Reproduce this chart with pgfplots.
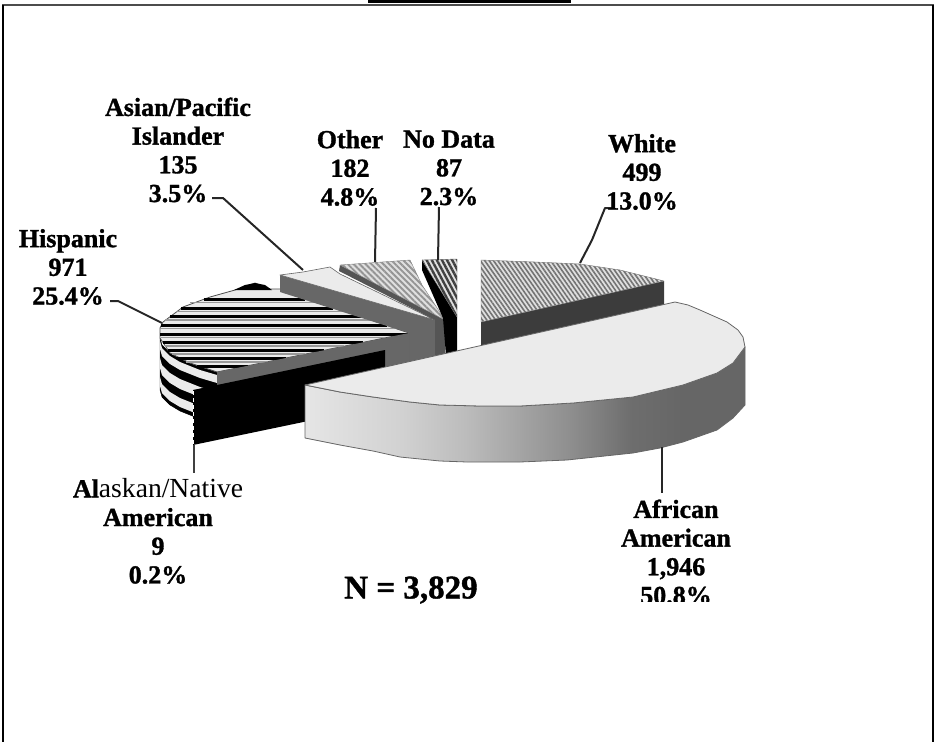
\documentclass[border=0pt]{standalone}
\usepackage{fontspec}
\setmainfont[BoldFeatures={FakeBold=1.2}]{Liberation Serif}
\usepackage{pgfplots}
\pgfplotsset{compat=1.18}
\usetikzlibrary{patterns.meta}
\definecolor{faceA}{HTML}{EBEBEB}
\definecolor{sideA}{HTML}{676767}
\definecolor{sideB}{HTML}{555555}
\definecolor{sideC}{HTML}{3C3C3C}
\pgfdeclarehorizontalshading{afr}{100bp}{
  rgb(0bp)=(.90,.90,.90); rgb(25bp)=(.90,.90,.90); rgb(36bp)=(.82,.82,.82);
  rgb(43bp)=(.74,.74,.74); rgb(55bp)=(.56,.56,.56); rgb(62bp)=(.43,.43,.43);
  rgb(68bp)=(.40,.40,.40); rgb(100bp)=(.40,.40,.40)}
\newcommand{\lab}{\fontsize{26}{28.7}\selectfont\bfseries}
\begin{document}
\begin{tikzpicture}
\useasboundingbox (0,0) rectangle (935pt,742pt);
\begin{axis}[
  scale only axis, width=935pt, height=742pt,
  xmin=0, xmax=935, ymin=0, ymax=742, y dir=reverse,
  hide axis, no markers,
  every axis plot/.append style={line join=round},
  stripe/.style={black, line width=3pt, forget plot},
  greystripe/.style={gray!80, line width=1.5pt},
  leader/.style={black!85, line width=2pt},
]
% frame and the cut off title rule
\addplot[fill=black, draw=none] coordinates {(368,0)(571,0)(571,2.5)(368,2.5)} -- cycle;
\addplot[black!70, line width=2pt] coordinates {(2,5)(934,5)};
\addplot[black, line width=2pt] coordinates {(3,5)(3,742)};
\addplot[black, line width=2pt] coordinates {(933,5)(933,742)};

% Hispanic: side bands
\addplot[fill=black, draw=black] coordinates {(160,338)(162,345)(170,353)(180,359)(190,363)(200,367)(217,372)(217,424)(200,419)(190,415)(180,411)(170,405)(162,397)(160,390)} -- cycle;
\addplot[fill=faceA, draw=none] coordinates {(160,341)(162,348)(170,356)(180,362)(190,366)(200,370)(217,375)(217,383)(200,378)(190,374)(180,370)(170,364)(162,356)(160,349)} -- cycle;
\addplot[fill=faceA, draw=none] coordinates {(160,358)(162,365)(170,373)(180,379)(190,383)(200,387)(217,392)(217,402)(200,397)(190,393)(180,389)(170,383)(162,375)(160,368)} -- cycle;
\addplot[fill=faceA, draw=none] coordinates {(160,377)(162,384)(170,392)(180,398)(190,402)(200,406)(217,411)(217,420)(200,415)(190,411)(180,407)(170,401)(162,393)(160,386)} -- cycle;

% Hispanic: top face, stripes
\addplot[fill=faceA, draw=black!70, line width=.8pt] coordinates {(160,328)(160,338)(170,353)(190,363)(217,372)(409,333)(280,289)(270,289)(255,283)(235,290)(210,297)(183,307)(163,322)} -- cycle;
\addplot[fill=black, draw=none] coordinates {(234,290)(245,285)(255,283)(265,285)(272,290)} -- cycle;
\addplot[stripe] coordinates {(204,299)(305,299)};
\addplot[stripe] coordinates {(181,308)(333,308)};
\addplot[stripe] coordinates {(170,316.7)(361,316.7)};
\addplot[stripe] coordinates {(161,325)(387,325)};
\addplot[stripe] coordinates {(160,334)(408,334)};
\addplot[stripe] coordinates {(163,342.7)(363,342.7)};
\addplot[stripe] coordinates {(168,350.7)(324,350.7)};
\addplot[stripe] coordinates {(177,358.3)(286,358.3)};
\addplot[stripe] coordinates {(197,366)(248,366)};
\addplot[greystripe] coordinates {(190,302.5)(315,302.5)};
\addplot[greystripe] coordinates {(176,311.5)(345,311.5)};
\addplot[greystripe] coordinates {(165,320)(372,320)};
\addplot[greystripe] coordinates {(160,328.5)(400,328.5)};
\addplot[greystripe] coordinates {(161,337.5)(385,337.5)};
\addplot[greystripe] coordinates {(165,346)(344,346)};
\addplot[greystripe] coordinates {(172,354)(305,354)};
\addplot[greystripe] coordinates {(186,361.8)(268,361.8)};

% cut faces at the middle
\addplot[fill=sideA, draw=none] coordinates {(217,372)(409,333)(409,372)(217,392)} -- cycle;
\addplot[fill=black, draw=none] coordinates {(193,390)(385,350)(385,405)(193,445)} -- cycle;
\addplot[white, line width=1pt, dash pattern=on 4pt off 3pt] coordinates {(193,391)(193,445)};
\addplot[black!75, line width=1.3pt] coordinates {(194,445)(194,473)};

% Asian/Pacific Islander
\addplot[fill=sideA, draw=none] coordinates {(280,275)(435,320)(435,358)(409,372)(409,333)(280,292)} -- cycle;
\addplot[black!60, line width=.8pt] coordinates {(409,333)(409,372)};
\addplot[fill=faceA, draw=black!60, line width=.6pt] coordinates {(280,275)(303,272)(330,267)(340,274)(435,320)} -- cycle;

% Other
\addplot[fill=sideB, draw=none] coordinates {(340,265)(445,320)(445,358)(435,360)(435,320)(339,271)} -- cycle;
\addplot[fill=black!12, draw=none] coordinates {(340,265)(410,260)(422,285)(445,320)} -- cycle;
\addplot[pattern={Lines[angle=-45,distance=4.2pt,line width=1.9pt]}, pattern color=black!42, draw=black!50, line width=.4pt] coordinates {(340,265)(410,260)(422,285)(445,320)} -- cycle;

% No Data
\addplot[fill=black, draw=none] coordinates {(422,260)(457,317)(457,353)(446,356)(443,318)(422,270)} -- cycle;
\addplot[fill=black!12, draw=none] coordinates {(422,260)(457,259)(457,317)} -- cycle;
\addplot[pattern={Lines[angle=-62,distance=4.5pt,line width=2.4pt]}, pattern color=black!75, draw=black!60, line width=.4pt] coordinates {(422,260)(457,259)(457,317)} -- cycle;

% White
\addplot[fill=sideC, draw=none] coordinates {(481,322)(664,281)(664,310)(481,352)} -- cycle;
\addplot[fill=black!12, draw=none] coordinates {(481,322)(481,260)(535,262)(580,264)(620,270)(664,281)} -- cycle;
\addplot[pattern={Lines[angle=-55,distance=3.6pt,line width=1.6pt]}, pattern color=black!55, draw=black!55, line width=.4pt] coordinates {(481,322)(481,260)(535,262)(580,264)(620,270)(664,281)} -- cycle;

% African American
\addplot[shading=afr, draw=black!60, line width=.8pt] coordinates {(305,385)(340,392)(373,397)(410,402)(440,405)(480,406)(520,406)(573,403)(633,397)(683,385)(717,373)(733,363)(745,347)(745,405)(733,418)(717,430)(683,442)(660,448)(633,453)(567,460)(520,462)(467,462)(440,461)(400,457)(373,451)(340,445)(305,438)} -- cycle;
\addplot[fill=faceA, draw=black!60, line width=.8pt] coordinates {(305,385)(675,302)(688,305)(700,310)(727,322)(738,330)(743,337)(745,347)(733,363)(717,373)(683,385)(633,397)(573,403)(520,406)(480,406)(440,405)(410,402)(373,397)(340,392)} -- cycle;

% leader lines
\addplot[leader] coordinates {(212,198)(223,198)(303,270)};
\addplot[leader] coordinates {(376,208)(375,262)};
\addplot[leader] coordinates {(439,207)(438,260)};
\addplot[leader] coordinates {(612,208)(605,208)(592,240)(580,263)};
\addplot[leader] coordinates {(110,301)(118,301)(140,312)(162,323)};
\addplot[leader] coordinates {(662,447)(662,493)};

% labels
\node[align=center, font=\lab] at (axis cs:178,150) {Asian/Pacific\\Islander\\135\\3.5\%};
\node[align=center, font=\lab] at (axis cs:350,168) {Other\\182\\4.8\%};
\node[align=center, font=\lab] at (axis cs:449,168) {No Data\\87\\2.3\%};
\node[align=center, font=\lab] at (axis cs:642,172) {White\\499\\13.0\%};
\node[align=center, font=\lab] at (axis cs:68,267) {Hispanic\\971\\25.4\%};
\node[align=center, font=\lab] at (axis cs:158,531) {{\bfseries Al}{\mdseries\fontsize{27.6}{28.7}\selectfont askan/Native}\\American\\9\\0.2\%};
\node[align=center, font=\lab] at (axis cs:676,552) {African\\American\\1,946\\50.8\%};
\fill[white] (axis cs:600,602) rectangle (axis cs:760,625);
\node[font=\fontsize{33}{36}\selectfont\bfseries] at (axis cs:411,590) {N = 3,829};
\end{axis}
\end{tikzpicture}
\end{document}
